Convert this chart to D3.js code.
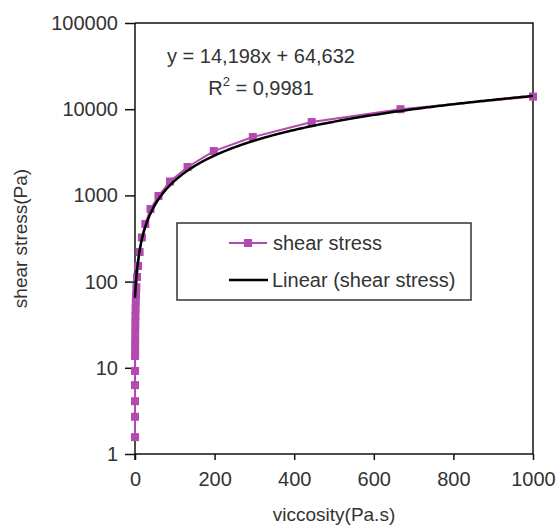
<!DOCTYPE html>
<html>
<head>
<meta charset="utf-8">
<script src="https://cdn.jsdelivr.net/npm/d3@7"></script>
<style>
  html, body { margin: 0; padding: 0; background: #fff; }
  svg text { font-family: "Liberation Sans", Arial, sans-serif; fill: #333; }
</style>
</head>
<body>
<svg id="chart" width="558" height="532"></svg>
<script>
// ---- data ----
const viscosity = [1000, 667, 444, 296, 198, 132, 88, 59, 39, 26, 17.3, 11.6, 7.7, 5.1, 3.4,
                   2.6, 2.0, 1.5, 1.15, 0.88, 0.68, 0.52, 0.40, 0.30, 0.20, 0.13, 0.088, 0.059, 0.039, 0.026];
const shearStress = [14000, 10000, 7100, 4760, 3270, 2135, 1450, 985, 695, 466, 325, 220, 152, 113, 86,
                     70, 58, 48, 40, 33, 27, 22, 18.5, 15.5, 13.7, 9.2, 6.3, 4.1, 2.7, 1.57];
const xTicks = [0, 200, 400, 600, 800, 1000];
const yTicks = [1, 10, 100, 1000, 10000, 100000];
const trendSlope = 14.198;
const trendIntercept = 64.632;
const equationText = "y = 14,198x + 64,632";
const r2Value = "0,9981";
const seriesName = "shear stress";
const trendName = "Linear (shear stress)";
const xTitle = "viccosity(Pa.s)";
const yTitle = "shear stress(Pa)";

const pink = "#b44ab0";
const svg = d3.select("#chart");
const L = 135, R = 533, T = 23, B = 454;

const x = d3.scaleLinear().domain([0, 1000]).range([L, R]);
const y = d3.scaleLog().domain([1, 100000]).range([B, T]);

// plot frame (top and right)
svg.append("path")
  .attr("d", `M${L},${T}H${R}V${B}`)
  .attr("fill", "none").attr("stroke", "#111").attr("stroke-width", 1.5);

// axes
const yAxis = d3.axisLeft(y).tickValues(yTicks).tickFormat(d3.format("d")).tickSize(10).tickPadding(7);
const gy = svg.append("g").attr("transform", `translate(${L},0)`).call(yAxis);
const xAxis = d3.axisBottom(x).tickValues(xTicks).tickFormat(d3.format("d")).tickSize(6).tickPadding(12);
const gx = svg.append("g").attr("transform", `translate(0,${B})`).call(xAxis);
[gx, gy].forEach(g => {
  g.select(".domain").attr("stroke", "#111").attr("stroke-width", 1.5);
  g.selectAll(".tick line").attr("stroke", "#111").attr("stroke-width", 1.5);
  g.selectAll("text").style("font-size", "20px").attr("fill", "#333");
});
gx.select(".domain").attr("d", `M${L},0H${R}`);
gy.select(".domain").attr("d", `M0,${T}V${B + 6}`);

// axis titles
svg.append("text").attr("x", (L + R) / 2).attr("y", 521)
  .attr("text-anchor", "middle").style("font-size", "19px").text(xTitle);
svg.append("text").attr("transform", `translate(27,${(T + B) / 2}) rotate(-90)`)
  .attr("text-anchor", "middle").style("font-size", "19px").text(yTitle);

// data series
const pts = viscosity.map((v, i) => [v, shearStress[i]]);
svg.append("path").datum(pts)
  .attr("fill", "none").attr("stroke", pink).attr("stroke-width", 2)
  .attr("d", d3.line().x(d => x(d[0])).y(d => y(d[1])));
svg.append("g").selectAll("rect").data(pts).join("rect")
  .attr("x", d => x(d[0]) - 4).attr("y", d => y(d[1]) - 4)
  .attr("width", 8).attr("height", 8).attr("fill", pink);

// linear trendline (from displayed equation)
const xMin = d3.min(viscosity), xMax = d3.max(viscosity);
const trendX = d3.range(0, 401).map(i => xMin + (xMax - xMin) * Math.pow(i / 400, 2));
svg.append("path").datum(trendX)
  .attr("fill", "none").attr("stroke", "#000").attr("stroke-width", 2.5)
  .attr("d", d3.line().x(d => x(d)).y(d => y(trendSlope * d + trendIntercept)));

// equation label
svg.append("text").attr("x", 261).attr("y", 63).attr("text-anchor", "middle")
  .style("font-size", "20px").text(equationText);
const r2 = svg.append("text").attr("x", 261).attr("y", 95).attr("text-anchor", "middle")
  .style("font-size", "20px");
r2.append("tspan").text("R");
r2.append("tspan").attr("dy", -9).style("font-size", "13px").text("2");
r2.append("tspan").attr("dy", 9).text(" = " + r2Value);

// legend
const lg = svg.append("g");
lg.append("rect").attr("x", 177).attr("y", 223).attr("width", 294).attr("height", 77)
  .attr("fill", "#fff").attr("stroke", "#333").attr("stroke-width", 1.5);
lg.append("line").attr("x1", 229).attr("x2", 267).attr("y1", 243).attr("y2", 243)
  .attr("stroke", pink).attr("stroke-width", 2);
lg.append("rect").attr("x", 244).attr("y", 239).attr("width", 8).attr("height", 8).attr("fill", pink);
lg.append("text").attr("x", 273).attr("y", 243).attr("dy", "0.35em").style("font-size", "20px").text(seriesName);
lg.append("line").attr("x1", 229).attr("x2", 268).attr("y1", 280).attr("y2", 280)
  .attr("stroke", "#000").attr("stroke-width", 2.5);
lg.append("text").attr("x", 272).attr("y", 280).attr("dy", "0.35em").style("font-size", "20px").text(trendName);
</script>
</body>
</html>
